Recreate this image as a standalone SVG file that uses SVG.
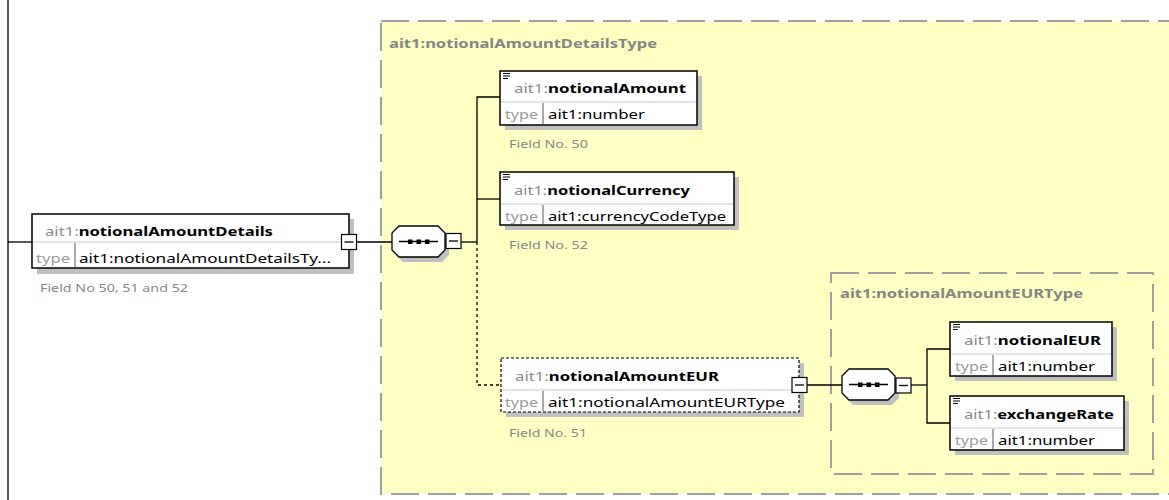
<svg xmlns="http://www.w3.org/2000/svg" width="1169" height="500" viewBox="0 0 1169 500">
<style>
.t{font-family:"Noto Sans","Open Sans","Liberation Sans",sans-serif;font-size:13px;fill:#000}
.b{font-weight:bold}
.p{fill:#8a8a8a;font-weight:normal}
.ty{font-family:"Noto Sans","Open Sans","Liberation Sans",sans-serif;font-size:13px;fill:#999}
.f{font-family:"Noto Sans","Open Sans","Liberation Sans",sans-serif;font-size:11px;fill:#888}
.lbl{font-family:"Noto Sans","Open Sans","Liberation Sans",sans-serif;font-size:13px;font-weight:bold;fill:#858585}
.box{fill:#fff;stroke:#000;stroke-width:1.5}
.dbox{fill:#fff;stroke:#000;stroke-width:1.2;stroke-dasharray:3 2}
.sh{fill:#c0c0c0}
.hd{stroke:#c8c8c8;stroke-width:1}
.vd{stroke:#555;stroke-width:1}
.grp{fill:#ffffc4;stroke:#a0a0a0;stroke-width:2;stroke-dasharray:28 9}
.ln{stroke:#000;stroke-width:1.3;fill:none}
.dl{stroke:#000;stroke-width:1.3;fill:none;stroke-dasharray:3 3}
.mb{fill:#fff;stroke:#000;stroke-width:1.2}
.ic{stroke:#000;stroke-width:1}
</style>
<defs>
<g id="minus"><rect class="mb" x="-7.5" y="-7.5" width="15" height="15"/><line class="ln" x1="-4.5" y1="0" x2="4.5" y2="0"/></g>
<g id="seq">
<polygon class="sh" points="11,5 50,5 57,12 57,29 50,36 11,36 4,29 4,12"/>
<polygon fill="#fff" stroke="#000" stroke-width="1.3" points="7,0 46,0 53,7 53,24 46,31 7,31 0,24 0,7"/>
<line class="ln" x1="7" y1="15.5" x2="46" y2="15.5"/>
<rect x="16" y="13.5" width="4.5" height="4.5" fill="#000"/>
<rect x="24.5" y="13.5" width="4.5" height="4.5" fill="#000"/>
<rect x="33" y="13.5" width="4.5" height="4.5" fill="#000"/>
</g>
<g id="icon"><line class="ic" x1="0" y1="0.5" x2="7" y2="0.5"/><line class="ic" x1="0" y1="3" x2="7" y2="3"/><line class="ic" x1="0" y1="5.5" x2="5" y2="5.5"/></g>
</defs>
<rect width="1169" height="500" fill="#fff"/>

<g id="grp-outer">
<rect class="grp" x="381" y="21" width="800" height="473"/>
<text class="lbl" x="389" y="48" textLength="268" lengthAdjust="spacingAndGlyphs">ait1:notionalAmountDetailsType</text>
</g>
<g id="grp-inner">
<rect class="grp" x="831" y="273" width="322" height="201"/>
<text class="lbl" x="840" y="298" textLength="243" lengthAdjust="spacingAndGlyphs">ait1:notionalAmountEURType</text>
</g>

<g id="connectors">
<line class="ln" x1="8" y1="0" x2="8" y2="500" stroke-width="2"/>
<line class="ln" x1="8" y1="242" x2="32" y2="242"/>
<line class="ln" x1="357" y1="242" x2="392" y2="242"/>
<line class="ln" x1="461" y1="242" x2="477" y2="242"/>
<polyline class="ln" points="500,97 477,97 477,242"/>
<line class="ln" x1="477" y1="199" x2="500" y2="199"/>
<polyline class="dl" points="477,242 477,385 501,385"/>
<line class="ln" x1="807" y1="385" x2="842" y2="385"/>
<line class="ln" x1="911" y1="385" x2="927" y2="385"/>
<polyline class="ln" points="950,349 927,349 927,423 950,423"/>
</g>

<g id="node-notionalAmountDetails">
<rect class="sh" x="37" y="219" width="317" height="55"/>
<rect class="box" x="32" y="214" width="317" height="54"/>
<line class="hd" x1="33" y1="242" x2="348" y2="242"/>
<line class="vd" x1="75" y1="243" x2="75" y2="267"/>
<text class="t b" x="45" y="236" textLength="228" lengthAdjust="spacingAndGlyphs"><tspan class="p">ait1:</tspan>notionalAmountDetails</text>
<text class="ty" x="36" y="263" textLength="34" lengthAdjust="spacingAndGlyphs">type</text>
<text class="t" x="79" y="263" textLength="252" lengthAdjust="spacingAndGlyphs">ait1:notionalAmountDetailsTy...</text>
<use href="#minus" x="349" y="242"/>
<text class="f" x="40" y="292" textLength="148" lengthAdjust="spacingAndGlyphs">Field No 50, 51 and 52</text>
</g>

<g id="seq1"><use href="#seq" x="392" y="226"/><use href="#minus" x="453.5" y="241"/></g>

<g id="node-notionalAmount">
<rect class="sh" x="505" y="76" width="197" height="54"/>
<rect class="box" x="500" y="71" width="197" height="54"/>
<line class="hd" x1="501" y1="102" x2="696" y2="102"/>
<line class="vd" x1="543" y1="103" x2="543" y2="124"/>
<use href="#icon" x="503" y="73"/>
<text class="t b" x="514" y="93" textLength="172" lengthAdjust="spacingAndGlyphs"><tspan class="p">ait1:</tspan>notionalAmount</text>
<text class="ty" x="505" y="119" textLength="33" lengthAdjust="spacingAndGlyphs">type</text>
<text class="t" x="548" y="119" textLength="97" lengthAdjust="spacingAndGlyphs">ait1:number</text>
<text class="f" x="509" y="148" textLength="79" lengthAdjust="spacingAndGlyphs">Field No. 50</text>
</g>

<g id="node-notionalCurrency">
<rect class="sh" x="505" y="177" width="234" height="53"/>
<rect class="box" x="500" y="172" width="234" height="53"/>
<line class="hd" x1="501" y1="204" x2="733" y2="204"/>
<line class="vd" x1="543" y1="205" x2="543" y2="224"/>
<use href="#icon" x="503" y="174"/>
<text class="t b" x="514" y="195" textLength="176" lengthAdjust="spacingAndGlyphs"><tspan class="p">ait1:</tspan>notionalCurrency</text>
<text class="ty" x="505" y="221" textLength="33" lengthAdjust="spacingAndGlyphs">type</text>
<text class="t" x="548" y="221" textLength="178" lengthAdjust="spacingAndGlyphs">ait1:currencyCodeType</text>
<text class="f" x="509" y="249" textLength="79" lengthAdjust="spacingAndGlyphs">Field No. 52</text>
</g>

<g id="node-notionalAmountEUR">
<rect class="sh" x="506" y="363" width="298" height="54"/>
<rect class="dbox" x="501" y="358" width="298" height="54"/>
<line class="hd" x1="502" y1="390" x2="798" y2="390"/>
<line class="vd" x1="543" y1="391" x2="543" y2="411"/>
<text class="t b" x="515" y="381" textLength="204" lengthAdjust="spacingAndGlyphs"><tspan class="p">ait1:</tspan>notionalAmountEUR</text>
<text class="ty" x="505" y="407" textLength="33" lengthAdjust="spacingAndGlyphs">type</text>
<text class="t" x="548" y="407" textLength="237" lengthAdjust="spacingAndGlyphs">ait1:notionalAmountEURType</text>
<use href="#minus" x="799.5" y="385"/>
<text class="f" x="509" y="437" textLength="78" lengthAdjust="spacingAndGlyphs">Field No. 51</text>
</g>

<g id="seq2"><use href="#seq" x="842" y="369"/><use href="#minus" x="903.5" y="385.5"/></g>

<g id="node-notionalEUR">
<rect class="sh" x="955" y="327" width="162" height="54"/>
<rect class="box" x="950" y="322" width="162" height="54"/>
<line class="hd" x1="951" y1="354" x2="1111" y2="354"/>
<line class="vd" x1="993" y1="355" x2="993" y2="375"/>
<use href="#icon" x="953" y="324"/>
<text class="t b" x="964" y="345" textLength="137" lengthAdjust="spacingAndGlyphs"><tspan class="p">ait1:</tspan>notionalEUR</text>
<text class="ty" x="955" y="371" textLength="33" lengthAdjust="spacingAndGlyphs">type</text>
<text class="t" x="998" y="371" textLength="97" lengthAdjust="spacingAndGlyphs">ait1:number</text>
</g>

<g id="node-exchangeRate">
<rect class="sh" x="955" y="401" width="174" height="54"/>
<rect class="box" x="950" y="396" width="174" height="54"/>
<line class="hd" x1="951" y1="428" x2="1123" y2="428"/>
<line class="vd" x1="993" y1="429" x2="993" y2="449"/>
<use href="#icon" x="953" y="398"/>
<text class="t b" x="964" y="419" textLength="150" lengthAdjust="spacingAndGlyphs"><tspan class="p">ait1:</tspan>exchangeRate</text>
<text class="ty" x="955" y="445" textLength="33" lengthAdjust="spacingAndGlyphs">type</text>
<text class="t" x="998" y="445" textLength="97" lengthAdjust="spacingAndGlyphs">ait1:number</text>
</g>
</svg>
